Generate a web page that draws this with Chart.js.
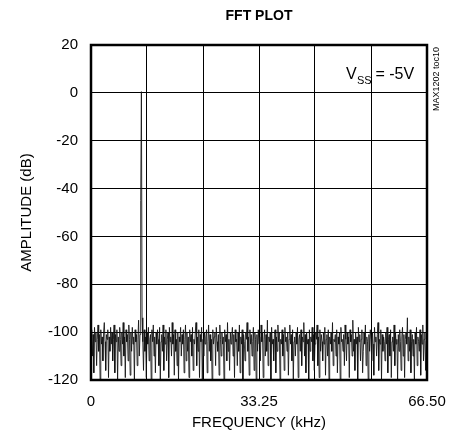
<!DOCTYPE html>
<html>
<head>
<meta charset="utf-8">
<script src="https://cdn.jsdelivr.net/npm/chart.js@4.4.1/dist/chart.umd.min.js"></script>
<style>
  html, body { margin: 0; padding: 0; background: #fff; }
  #wrap { width: 450px; height: 444px; }
</style>
</head>
<body>
<div id="wrap"><canvas id="fft" width="450" height="444"></canvas></div>
<script>
// --- Data ---
const FREQ_MAX_KHZ = 66.5;
const xGridKHz = [0, 11.0833, 22.1667, 33.25, 44.3333, 55.4167, 66.5];
const xTickLabels = { '0': '0', '33.25': '33.25', '66.5': '66.50' };
const yTicks = [20, 0, -20, -40, -60, -80, -100, -120];

// amplitude per FFT bin (481 bins spanning 0 .. 66.5 kHz)
const amplitudeDb = [
  -102, -99, -110, -101, -117, -98, -104, -100, -114, -103,
  -97, -108, -101, -120, -99, -105, -102, -112, -100, -96,
  -104, -116, -101, -103, -99, -119, -102, -108, -98, -105,
  -100, -112, -103, -97, -117, -101, -104, -99, -120, -102,
  -108, -98, -103, -114, -100, -105, -96, -110, -102, -119,
  -99, -104, -101, -112, -97, -103, -118, -100, -108, -98,
  -105, -102, -120, -99, -104, -101, -114, -103, -95, -110,
  -101, -45, 0.5, -94, -104, -116, -99, -108, -102, -119,
  -100, -105, -98, -112, -103, -101, -120, -99, -104, -97,
  -110, -102, -117, -100, -105, -99, -103, -114, -98, -120,
  -104, -101, -108, -97, -116, -102, -105, -99, -112, -103,
  -100, -119, -98, -104, -102, -110, -96, -105, -101, -118,
  -99, -108, -103, -114, -100, -120, -102, -104, -98, -110,
  -101, -105, -99, -117, -103, -97, -112, -100, -108, -102,
  -119, -99, -104, -101, -110, -98, -116, -103, -105, -100,
  -96, -114, -102, -108, -99, -119, -101, -104, -98, -120,
  -103, -110, -100, -105, -102, -99, -117, -104, -97, -108,
  -101, -112, -103, -120, -99, -105, -102, -100, -114, -98,
  -104, -108, -101, -118, -97, -103, -110, -100, -105, -102,
  -120, -99, -104, -101, -112, -96, -108, -103, -116, -100,
  -105, -102, -98, -110, -101, -119, -99, -104, -103, -114,
  -100, -108, -97, -117, -102, -105, -99, -120, -101, -104,
  -112, -100, -103, -96, -108, -102, -118, -99, -105, -101,
  -110, -104, -98, -116, -100, -103, -120, -101, -108, -99,
  -105, -102, -112, -97, -104, -100, -119, -103, -99, -110,
  -101, -108, -95, -114, -102, -104, -100, -120, -98, -105,
  -103, -112, -101, -99, -117, -102, -108, -97, -104, -100,
  -120, -103, -105, -99, -110, -101, -116, -98, -104, -102,
  -108, -100, -118, -103, -97, -105, -101, -112, -99, -120,
  -104, -102, -110, -100, -105, -98, -119, -103, -101, -108,
  -99, -114, -102, -104, -96, -110, -101, -117, -100, -105,
  -103, -120, -99, -108, -102, -104, -98, -112, -101, -116,
  -105, -100, -103, -97, -114, -102, -119, -99, -108, -101,
  -104, -112, -100, -105, -98, -118, -103, -101, -110, -99,
  -120, -102, -105, -100, -108, -96, -114, -103, -104, -101,
  -110, -99, -117, -102, -105, -100, -120, -98, -104, -103,
  -108, -101, -114, -97, -103, -112, -100, -105, -102, -119,
  -99, -104, -101, -110, -95, -108, -103, -116, -100, -105,
  -102, -120, -98, -104, -101, -112, -103, -99, -117, -108,
  -100, -105, -97, -114, -102, -104, -120, -101, -108, -99,
  -103, -112, -100, -105, -118, -98, -104, -102, -110, -101,
  -96, -116, -103, -105, -99, -120, -101, -108, -102, -104,
  -112, -100, -105, -98, -117, -103, -101, -110, -99, -119,
  -104, -102, -108, -97, -114, -100, -105, -103, -120, -101,
  -108, -99, -104, -116, -102, -98, -110, -101, -119, -103,
  -100, -105, -94, -112, -102, -108, -99, -117, -104, -101,
  -110, -103, -120, -100, -105, -98, -114, -102, -104, -108,
  -99, -118, -101, -105, -97, -112, -103, -100, -116, -104,
  -102
];
const binWidthKHz = FREQ_MAX_KHZ / (amplitudeDb.length - 1);

const FONT = "'Liberation Sans', Arial, Helvetica, sans-serif";

// frame, title and annotations drawn around the plot
const framePlugin = {
  id: 'frame',
  afterDraw(chart) {
    const { ctx, chartArea: a } = chart;
    ctx.save();
    ctx.strokeStyle = '#000';
    ctx.lineWidth = 2.5;
    ctx.strokeRect(a.left, a.top, a.right - a.left, a.bottom - a.top);

    ctx.fillStyle = '#000';
    // title, centred over the plot area
    ctx.font = 'bold 14px ' + FONT;
    ctx.textAlign = 'center';
    ctx.textBaseline = 'middle';
    ctx.fillText('FFT PLOT', (a.left + a.right) / 2, 16);

    // V_SS = -5V
    ctx.textAlign = 'left';
    ctx.textBaseline = 'alphabetic';
    ctx.font = '16px ' + FONT;
    ctx.fillText('V', 346, 79);
    ctx.font = '11px ' + FONT;
    ctx.fillText('SS', 357, 84);
    ctx.font = '16px ' + FONT;
    ctx.fillText(' = -5V', 371, 79);

    // side note
    ctx.translate(437, 79);
    ctx.rotate(-Math.PI / 2);
    ctx.font = '9px ' + FONT;
    ctx.textAlign = 'center';
    ctx.textBaseline = 'middle';
    ctx.fillText('MAX1202 toc10', 0, 0);
    ctx.restore();
  }
};

new Chart(document.getElementById('fft'), {
  type: 'line',
  data: {
    datasets: [{
      data: amplitudeDb.map((v, i) => ({ x: i * binWidthKHz, y: v })),
      borderColor: '#111',
      borderWidth: 0.85,
      borderJoinStyle: 'bevel',
      pointRadius: 0,
      tension: 0,
      fill: false
    }]
  },
  options: {
    responsive: false,
    animation: false,
    layout: { padding: { top: 45, right: 23, left: 0, bottom: 0 } },
    plugins: {
      legend: { display: false },
      tooltip: { enabled: false },
      title: { display: false }
    },
    scales: {
      x: {
        type: 'linear',
        min: 0,
        max: FREQ_MAX_KHZ,
        afterBuildTicks: s => { s.ticks = xGridKHz.map(v => ({ value: v })); },
        afterFit: s => { s.height = 64; s.paddingLeft = 0; s.paddingRight = 0; },
        grid: { color: '#000', lineWidth: 1, drawTicks: false },
        border: { display: false },
        ticks: {
          autoSkip: false,
          maxRotation: 0,
          padding: 13,
          color: '#000',
          font: { family: FONT, size: 15 },
          callback: v => xTickLabels[String(Math.round(v * 100) / 100)] || ''
        },
        title: {
          display: true,
          text: 'FREQUENCY (kHz)',
          color: '#000',
          font: { family: FONT, size: 15 },
          padding: { top: 0, bottom: 12 }
        }
      },
      y: {
        min: -120,
        max: 20,
        afterBuildTicks: s => { s.ticks = yTicks.map(v => ({ value: v })); },
        afterFit: s => { s.width = 91; s.paddingTop = 0; s.paddingBottom = 0; },
        grid: { color: '#000', lineWidth: 1, drawTicks: false },
        border: { display: false },
        ticks: {
          padding: 13,
          color: '#000',
          font: { family: FONT, size: 15 }
        },
        title: {
          display: true,
          text: 'AMPLITUDE (dB)',
          color: '#000',
          font: { family: FONT, size: 15 },
          padding: { top: 18, bottom: 0 }
        }
      }
    }
  },
  plugins: [framePlugin]
});
</script>
</body>
</html>
